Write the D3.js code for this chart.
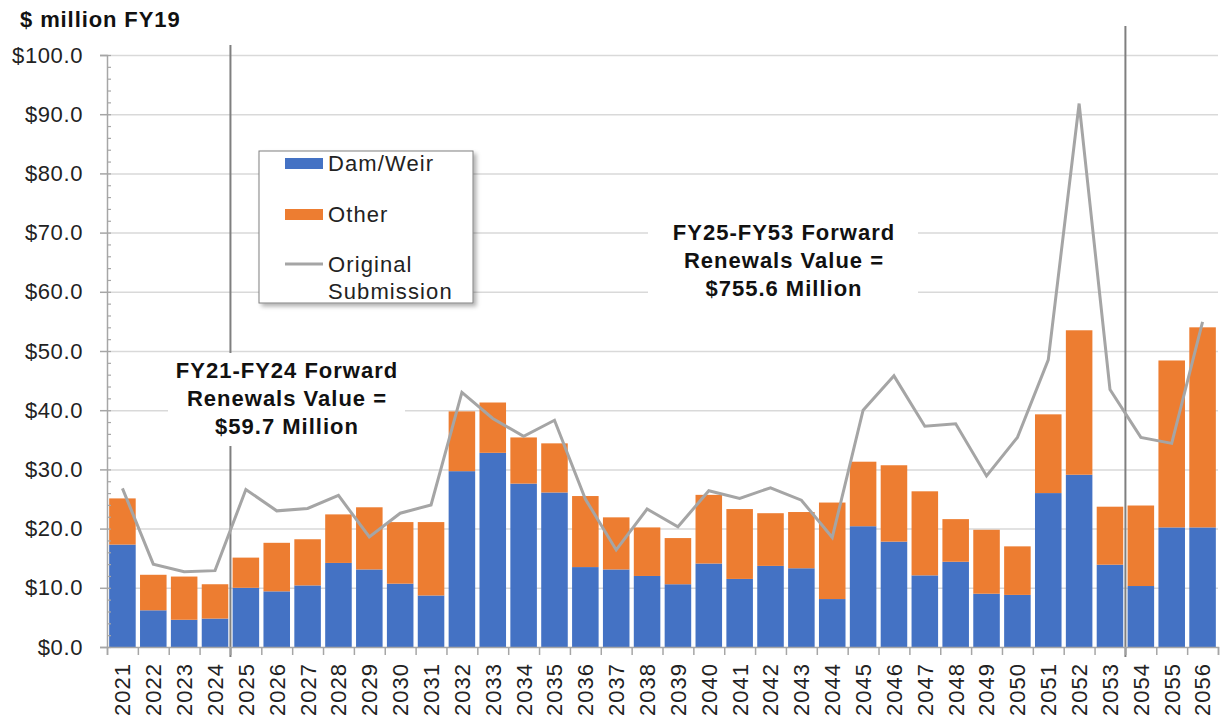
<!DOCTYPE html>
<html>
<head>
<meta charset="utf-8">
<script src="https://cdn.jsdelivr.net/npm/d3@7"></script>
<style>
  body { margin: 0; background: #fff; }
  svg text { font-family: "Liberation Sans", Arial, sans-serif; }
</style>
</head>
<body>
<svg id="chart" width="1220" height="722"></svg>
<script>
const years = ["2021","2022","2023","2024","2025","2026","2027","2028","2029","2030",
  "2031","2032","2033","2034","2035","2036","2037","2038","2039","2040",
  "2041","2042","2043","2044","2045","2046","2047","2048","2049","2050",
  "2051","2052","2053","2054","2055","2056"];

const damWeir = [17.3, 6.2, 4.6, 4.8, 10.0, 9.4, 10.4, 14.2, 13.1, 10.7,
  8.7, 29.7, 32.8, 27.6, 26.1, 13.5, 13.1, 12.0, 10.6, 14.1,
  11.5, 13.7, 13.3, 8.1, 20.4, 17.8, 12.1, 14.4, 9.0, 8.8,
  26.0, 29.1, 13.9, 10.3, 20.2, 20.2];

const other = [7.8, 6.0, 7.3, 5.8, 5.1, 8.2, 7.8, 8.2, 10.5, 10.4,
  12.4, 10.1, 8.5, 7.8, 8.3, 12.0, 8.8, 8.2, 7.8, 11.6,
  11.8, 8.9, 9.5, 16.3, 10.9, 12.9, 14.2, 7.2, 10.8, 8.2,
  13.3, 24.4, 9.8, 13.6, 28.2, 33.8];

const originalSubmission = [26.8, 14.0, 12.7, 12.9, 26.6, 23.0, 23.4, 25.6, 18.6, 22.6,
  24.0, 43.0, 38.6, 35.6, 38.3, 25.0, 16.4, 23.3, 20.3, 26.4,
  25.1, 26.9, 24.8, 18.5, 40.0, 45.8, 37.3, 37.7, 28.9, 35.4,
  48.5, 91.8, 43.5, 35.4, 34.4, 54.9];

const yTicks = [0, 10, 20, 30, 40, 50, 60, 70, 80, 90, 100];
const dividers = ["2025", "2054"];

const svg = d3.select("#chart");
const plotLeft = 107, plotRight = 1218, plotTop = 55, plotBottom = 647;
const blue = "#4472C4", orange = "#ED7D31", grey = "#A5A5A5";

const x = d3.scaleBand().domain(years).range([plotLeft, plotRight]).paddingInner(0.14).paddingOuter(0.07);
const xEdge = d3.scaleLinear().domain([0, years.length]).range([plotLeft, plotRight]);
const y = d3.scaleLinear().domain([0, 100]).range([plotBottom, plotTop]);

const rows = years.map((yr, i) => ({year: yr, dam: damWeir[i], other: other[i], orig: originalSubmission[i]}));
const stacked = d3.stack().keys(["dam", "other"])(rows);
const colour = d3.scaleOrdinal().domain(["dam", "other"]).range([blue, orange]);

// title
svg.append("text")
    .attr("x", 20).attr("y", 27)
    .style("font-size", "22px").style("font-weight", "bold").style("letter-spacing", "0.9px").attr("fill", "#111")
    .text("$ million FY19");

// gridlines
svg.append("g")
    .attr("transform", "translate(" + plotLeft + ",0)")
    .call(d3.axisLeft(y).tickValues(yTicks.slice(1)).tickSize(-(plotRight - plotLeft)).tickFormat(""))
    .call(g => g.select(".domain").remove())
    .call(g => g.selectAll("line").attr("stroke", "#D9D9D9").attr("stroke-width", 1.5));

// divider lines
const dividerTop = [45, 26];
dividers.forEach((yr, i) => {
    const xi = xEdge(years.indexOf(yr));
    svg.append("line")
        .attr("x1", xi).attr("x2", xi)
        .attr("y1", dividerTop[i]).attr("y2", 657)
        .attr("stroke", "#7F7F7F").attr("stroke-width", 2);
});

// annotation background boxes
svg.append("rect").attr("x", 168).attr("y", 353).attr("width", 237).attr("height", 93).attr("fill", "#fff");
svg.append("rect").attr("x", 648).attr("y", 214).attr("width", 270).attr("height", 92).attr("fill", "#fff");

// bars
svg.append("g")
    .selectAll("g")
    .data(stacked)
    .enter()
    .append("g")
        .attr("fill", d => colour(d.key))
    .selectAll("rect")
    .data(d => d)
    .enter()
    .append("rect")
        .attr("x", d => x(d.data.year))
        .attr("width", x.bandwidth())
        .attr("y", d => y(d[1]))
        .attr("height", d => y(d[0]) - y(d[1]));

// original submission line
svg.append("path")
    .datum(rows)
    .attr("fill", "none")
    .attr("stroke", grey)
    .attr("stroke-width", 3)
    .attr("stroke-linejoin", "miter")
    .attr("d", d3.line().x(d => x(d.year) + x.bandwidth() / 2).y(d => y(d.orig)));

// y axis with labels
svg.append("g")
    .attr("transform", "translate(" + plotLeft + ",0)")
    .call(d3.axisLeft(y).tickValues(yTicks).tickSize(7).tickPadding(17).tickFormat(d => "$" + d.toFixed(1)))
    .call(g => g.select(".domain").attr("stroke", "#A6A6A6").attr("stroke-width", 1.5))
    .call(g => g.selectAll("line").attr("stroke", "#A6A6A6").attr("stroke-width", 1.5))
    .call(g => g.selectAll("text").style("font-size", "22px").style("letter-spacing", "0.6px")
        .attr("fill", "#222").attr("font-family", null));

// y minor ticks
svg.append("g")
    .attr("transform", "translate(" + plotLeft + ",0)")
    .call(d3.axisRight(y).tickValues(d3.range(0, 101, 2)).tickSize(4).tickFormat(""))
    .call(g => g.select(".domain").remove())
    .call(g => g.selectAll("line").attr("stroke", "#A6A6A6").attr("stroke-width", 1.2));

// x axis ticks on category edges
svg.append("g")
    .attr("transform", "translate(0," + plotBottom + ")")
    .call(d3.axisBottom(xEdge).tickValues(d3.range(0, years.length + 1)).tickSize(8).tickFormat(""))
    .call(g => g.select(".domain").attr("stroke", "#A6A6A6").attr("stroke-width", 1.5))
    .call(g => g.selectAll("line").attr("stroke", "#A6A6A6").attr("stroke-width", 1.5));

// x labels
svg.append("g")
    .selectAll("text")
    .data(years)
    .enter()
    .append("text")
        .attr("transform", d => "translate(" + (x(d) + x.bandwidth() / 2) + ",663) rotate(-90)")
        .attr("text-anchor", "end")
        .attr("dy", "0.36em")
        .style("font-size", "22px")
        .style("letter-spacing", "1px")
        .attr("fill", "#222")
        .text(d => d);

// annotations
function addNote(cx, lines, baseY) {
    const t = svg.append("text")
        .attr("text-anchor", "middle")
        .style("font-size", "22px").style("font-weight", "bold").style("letter-spacing", "1px")
        .attr("fill", "#111");
    lines.forEach((s, i) => {
        t.append("tspan").attr("x", cx).attr("y", baseY + i * 28).text(s);
    });
}
addNote(287, ["FY21-FY24 Forward", "Renewals Value =", "$59.7 Million"], 378);
addNote(784, ["FY25-FY53 Forward", "Renewals Value =", "$755.6 Million"], 240);

// legend
const defs = svg.append("defs");
const f = defs.append("filter").attr("id", "shadow").attr("x", "-10%").attr("y", "-10%").attr("width", "130%").attr("height", "130%");
f.append("feDropShadow").attr("dx", 3).attr("dy", 3).attr("stdDeviation", 2).attr("flood-color", "#000").attr("flood-opacity", 0.3);

const legend = svg.append("g");
legend.append("rect")
    .attr("x", 259).attr("y", 151).attr("width", 214).attr("height", 152)
    .attr("fill", "#fff").attr("stroke", "#808080").attr("stroke-width", 1)
    .attr("filter", "url(#shadow)");
legend.append("rect").attr("x", 285).attr("y", 158).attr("width", 38).attr("height", 11).attr("fill", blue);
legend.append("rect").attr("x", 285).attr("y", 209).attr("width", 38).attr("height", 11).attr("fill", orange);
legend.append("line").attr("x1", 285).attr("x2", 323).attr("y1", 264).attr("y2", 264).attr("stroke", grey).attr("stroke-width", 3);
const legendText = [["Dam/Weir", 171], ["Other", 222], ["Original", 272], ["Submission", 299]];
legend.selectAll("text.item")
    .data(legendText)
    .enter()
    .append("text")
        .attr("class", "item")
        .attr("x", 328).attr("y", d => d[1])
        .style("font-size", "22px").style("letter-spacing", "1.1px").attr("fill", "#222")
        .text(d => d[0]);
</script>
</body>
</html>
